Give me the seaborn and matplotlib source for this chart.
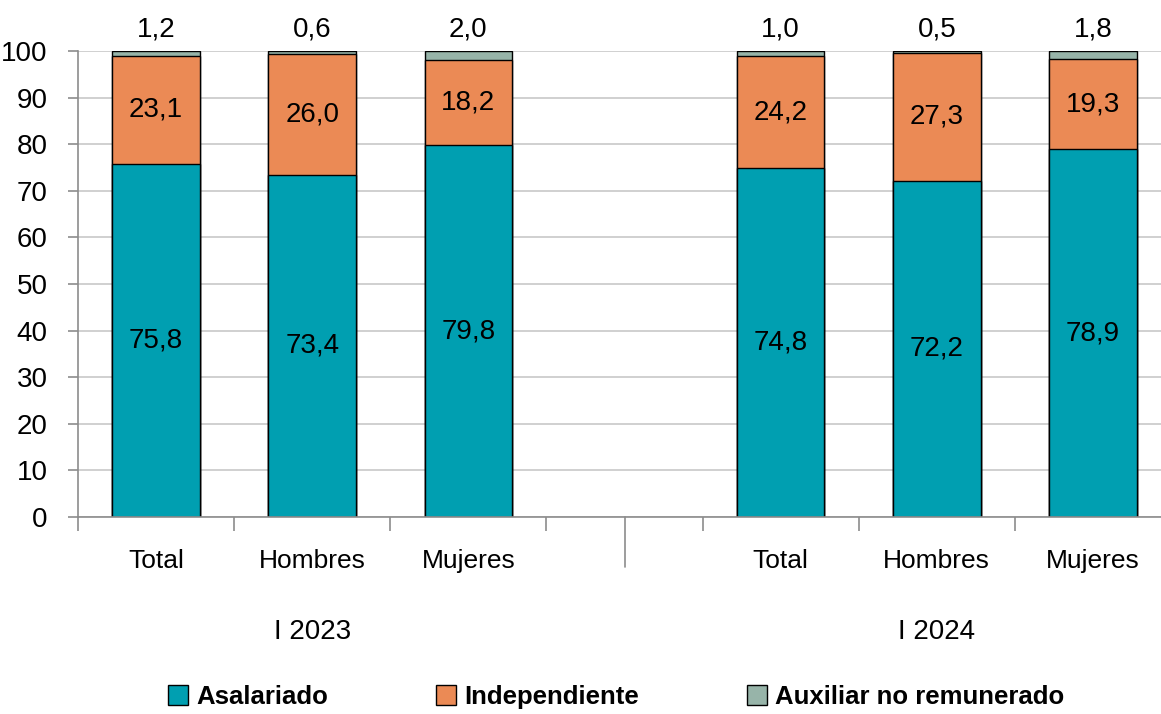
import pandas as pd
import matplotlib
matplotlib.use("Agg")
import matplotlib.pyplot as plt
import seaborn as sns
from matplotlib.patches import Patch

# data
cats = ["Total", "Hombres", "Mujeres", "Total", "Hombres", "Mujeres"]
years = ["I 2023", "I 2023", "I 2023", "I 2024", "I 2024", "I 2024"]
asalariado = [75.8, 73.4, 79.8, 74.8, 72.2, 78.9]
independiente = [23.1, 26.0, 18.2, 24.2, 27.3, 19.3]
auxiliar = [1.2, 0.6, 2.0, 1.0, 0.5, 1.8]
series_names = ["Asalariado", "Independiente", "Auxiliar no remunerado"]
group_labels = ["I 2023", "I 2024"]

df = pd.DataFrame({"cat": cats, "year": years,
                   "asal": asalariado, "indep": independiente, "aux": auxiliar})
df["key"] = df["cat"] + " " + df["year"]
df["s2"] = df["asal"] + df["indep"]
df["s3"] = df["s2"] + df["aux"]
order = list(df["key"][:3]) + ["gap"] + list(df["key"][3:])

teal = "#009FB1"
orange = "#EB8A55"
grey = "#97B4A9"

sns.set_theme(style="white")
plt.rcParams['font.family'] = ['Liberation Sans', 'DejaVu Sans']
plt.rcParams['text.color'] = 'black'
plt.rcParams['xtick.color'] = 'black'
plt.rcParams['ytick.color'] = 'black'

fig = plt.figure(figsize=(11.61, 7.14), dpi=100)
ax = fig.add_axes([78 / 1161, 1 - 517 / 714, 1093 / 1161, 466 / 714])

bw = 0.56
kw = dict(x="key", order=order, width=bw, edgecolor="black", linewidth=1.0, ax=ax)
sns.barplot(data=df, y="s3", color=grey, saturation=1, **kw)
sns.barplot(data=df, y="s2", color=orange, saturation=1, **kw)
sns.barplot(data=df, y="asal", color=teal, saturation=1, **kw)

ax.set_xlim(-0.5, 6.5)
ax.set_ylim(0, 100)
ax.set_yticks(range(0, 101, 10))
ax.yaxis.grid(True, color="#c8c8c8", linewidth=1.2)
ax.set_axisbelow(True)
ax.set_xlabel("")
ax.set_ylabel("")

# value labels
positions = [0, 1, 2, 4, 5, 6]
fs = 20
for p, a, i, x in zip(positions, asalariado, independiente, auxiliar):
    ax.text(p, a / 2, f"{a:.1f}".replace(".", ","), ha="center", va="center", fontsize=fs)
    ax.text(p, a + i / 2, f"{i:.1f}".replace(".", ","), ha="center", va="center", fontsize=fs)
    ax.text(p, 101.8, f"{x:.1f}".replace(".", ","), ha="center", va="bottom", fontsize=fs)

# x axis: boundary ticks, labels as text
ax.set_xticks([-0.5, 0.5, 1.5, 2.5, 3.5, 4.5, 5.5])
ax.set_xticklabels([])
ax.tick_params(axis="x", direction="out", length=10, width=1.2, color="#8c8c8c", bottom=True)
ax.tick_params(axis="y", direction="out", length=7, width=1.2, color="#8c8c8c", left=True,
               labelsize=fs, pad=15)
for p, c in zip(positions, cats):
    ax.text(p, -6.8, c, ha="center", va="top", fontsize=fs - 1)
ax.text(1, -21.8, group_labels[0], ha="center", va="top", fontsize=fs)
ax.text(5, -21.8, group_labels[1], ha="center", va="top", fontsize=fs)
ax.plot([3.0, 3.0], [0, -10.7], color="#8c8c8c", linewidth=1.2, clip_on=False)

for s in ["top", "right"]:
    ax.spines[s].set_visible(False)
for s in ["left", "bottom"]:
    ax.spines[s].set_color("#8c8c8c")
    ax.spines[s].set_linewidth(1.2)

handles = [Patch(facecolor=c, edgecolor="black", linewidth=1.0) for c in [teal, orange, grey]]
fig.legend(handles, series_names, loc="center", bbox_to_anchor=(616 / 1161, 1 - 697 / 714),
           ncol=3, frameon=False, handlelength=0.8, handleheight=0.8, handletextpad=0.3,
           columnspacing=4.2, prop={"size": 18.5, "weight": "bold"})

fig.savefig("out.png", dpi=100)
